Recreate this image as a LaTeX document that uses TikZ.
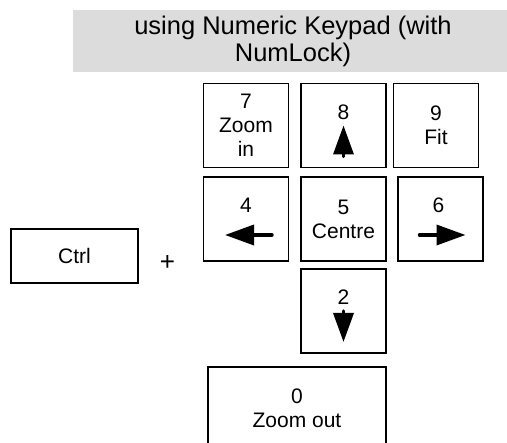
\documentclass[tikz,border=0pt]{standalone}
\usepackage{fontspec}
\setmainfont{Liberation Sans}
\usetikzlibrary{arrows.meta}

\begin{document}
\begin{tikzpicture}[x=1pt,y=-1pt,
        key/.style={draw,line width=1.3pt,minimum width=85pt,minimum height=84pt,
            align=center,inner sep=0pt,font=\fontsize{21}{24}\selectfont},
        digit/.style={font=\fontsize{21}{24}\selectfont},
        keyarrow/.style={line width=3.5pt,line cap=round,
            -{Triangle[length=29pt,width=20pt]}}]
        \clip (0,0) rectangle (507,443);
        \useasboundingbox (0,0) rectangle (507,443);
        % title bar
        \node[fill={rgb,255:red,220;green,220;blue,220},minimum width=440pt,minimum height=62pt,
            align=center,inner sep=0pt,font=\fontsize{25.5}{27}\selectfont] (title) at (293,41)
            {using Numeric Keypad (with\\NumLock)};
        % modifier
        \node[key,minimum width=127pt,minimum height=54pt] (ctrl) at (74.5,256) {Ctrl};
        \node[font=\fontsize{26}{28}\selectfont] (plus) at (167.5,263) {+};
        % keypad
        \node[key] (k7) at (246,125.5) {7\\Zoom\\in};
        \node[key] (k8) at (343.5,125.5) {};
        \node[key] (k9) at (436,125.5) {9\\Fit};
        \node[key] (k4) at (246,219) {};
        \node[key] (k5) at (343.5,219) {5\\Centre};
        \node[key] (k6) at (440.5,219) {};
        \node[key] (k2) at (343.5,311) {};
        \node[key,minimum width=178pt,minimum height=82pt] (k0) at (297,408) {0\\Zoom out};
        % digits and arrows
        \node[digit] (d8) at ([yshift=13pt]k8.center) {8};
        \draw[keyarrow] ([yshift=-31pt]k8.center) -- ([yshift=0pt]k8.center);
        \node[digit] (d4) at ([yshift=14pt]k4.center) {4};
        \draw[keyarrow] ([shift={(26pt,-16pt)}]k4.center) -- ([shift={(-21pt,-16pt)}]k4.center);
        \node[digit] (d6) at ([shift={(-2pt,14pt)}]k6.center) {6};
        \draw[keyarrow] ([shift={(-21pt,-16pt)}]k6.center) -- ([shift={(25pt,-16pt)}]k6.center);
        \node[digit] (d2) at ([yshift=13.5pt]k2.center) {2};
        \draw[keyarrow] ([yshift=0pt]k2.center) -- ([yshift=-31pt]k2.center);
      \end{tikzpicture}
\end{document}
